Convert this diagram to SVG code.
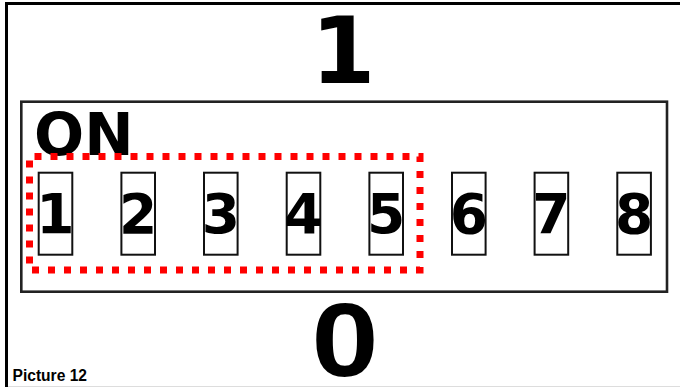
<svg xmlns="http://www.w3.org/2000/svg" width="680" height="387" viewBox="0 0 680 387">
<style>
.sw{fill:#fff;stroke:#111;stroke-width:2}
.d{font-family:"DejaVu Sans",Verdana,sans-serif;font-weight:bold;font-size:55px;fill:#000;text-anchor:middle}
.big{font-family:"DejaVu Sans",Verdana,sans-serif;font-weight:bold;fill:#000}
</style>
<rect width="680" height="387" fill="#fff"/>
<path d="M680,3.5 H6.5 V387" fill="none" stroke="#000" stroke-width="3"/>
<line x1="8" y1="386.5" x2="680" y2="386.5" stroke="#ddd" stroke-width="1"/>
<g id="panel">
<rect x="21.3" y="101.7" width="645.7" height="190" fill="#fff" stroke="#222" stroke-width="2.6"/>
</g>
<text id="label-1" class="big" x="343" y="83" font-size="93" text-anchor="middle">1</text>
<text id="label-on" class="big" x="34" y="155" font-size="59">ON</text>
<text id="label-0" font-family="'Liberation Sans',Arial,sans-serif" font-weight="bold" font-size="103" text-anchor="middle" transform="translate(345,375.5) scale(1.17,1)" x="0" y="0">0</text>
<text id="caption" font-family="'Liberation Sans',Arial,sans-serif" font-weight="bold" font-size="15.6" x="12.5" y="381">Picture 12</text>
<g id="switch-1"><rect class="sw" x="38.7" y="172.7" width="33.6" height="82"/><text class="d" x="55.5" y="233">1</text></g>
<g id="switch-2"><rect class="sw" x="121.4" y="172.7" width="33.6" height="82"/><text class="d" x="138.2" y="233">2</text></g>
<g id="switch-3"><rect class="sw" x="204" y="172.7" width="33.6" height="82"/><text class="d" x="220.8" y="233">3</text></g>
<g id="switch-4"><rect class="sw" x="286.7" y="172.7" width="33.6" height="82"/><text class="d" x="303.5" y="233">4</text></g>
<g id="switch-5"><rect class="sw" x="369.4" y="172.7" width="33.6" height="82"/><text class="d" x="386.2" y="233">5</text></g>
<g id="switch-6"><rect class="sw" x="452" y="172.7" width="33.6" height="82"/><text class="d" x="468.8" y="233">6</text></g>
<g id="switch-7"><rect class="sw" x="534.6" y="172.7" width="33.6" height="82"/><text class="d" x="551.4" y="233">7</text></g>
<g id="switch-8"><rect class="sw" x="617.3" y="172.7" width="33.6" height="82"/><text class="d" x="634.1" y="233">8</text></g>
<g id="connectors">
<rect id="selection" x="29.5" y="156.5" width="390.5" height="113.5" fill="none" stroke="#f00" stroke-width="7" stroke-dasharray="7 9" stroke-dashoffset="-5"/>
</g>
</svg>
